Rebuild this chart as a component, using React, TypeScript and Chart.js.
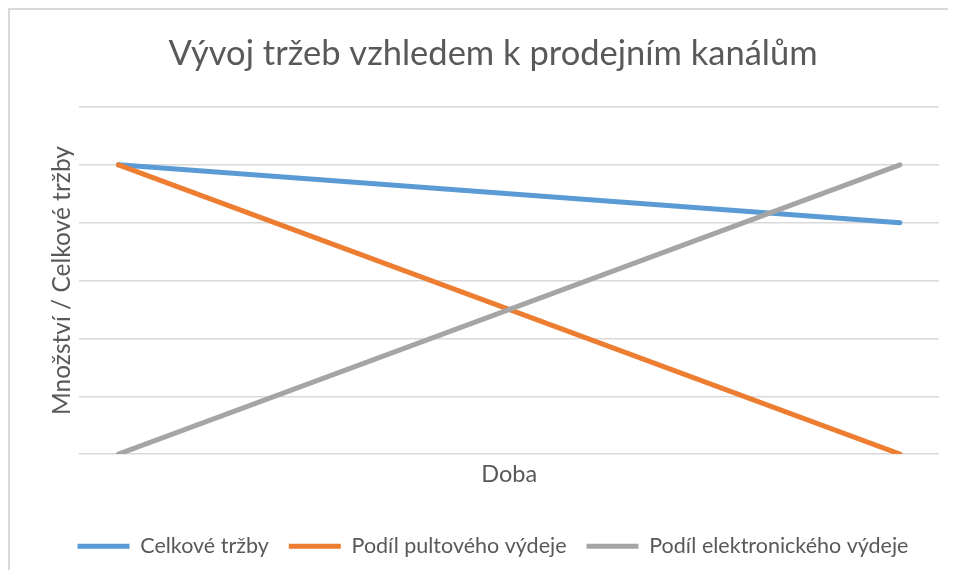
import React, { useEffect, useRef } from 'react';
import { Chart, registerables } from 'chart.js';

Chart.register(...registerables);

const chartTitle = 'Vývoj tržeb vzhledem k prodejním kanálům';
const xAxisTitle = 'Doba';
const yAxisTitle = 'Množství / Celkové tržby';

const periods = ['1', '2', '3', '4', '5', '6', '7', '8', '9', '10', '11'];
const seriesNames = ['Celkové tržby', 'Podíl pultového výdeje', 'Podíl elektronického výdeje'];
const celkoveTrzby = [5, null, null, null, null, null, null, null, null, null, 4];
const pultovyVydej = [5, null, null, null, null, null, null, null, null, null, 0];
const elektronickyVydej = [0, null, null, null, null, null, null, null, null, null, 5];
const yMin = 0;
const yMax = 6;
const yStep = 1;

const seriesColors = ['#5B9BD5', '#ED7D31', '#A5A5A5'];
const textColor = '#595959';
const fontFamily = 'Lato';

export default function App() {
  const canvasRef = useRef<HTMLCanvasElement | null>(null);

  useEffect(() => {
    if (!canvasRef.current) return;
    const values = [celkoveTrzby, pultovyVydej, elektronickyVydej];
    const chart = new Chart(canvasRef.current, {
      type: 'line',
      data: {
        labels: periods,
        datasets: seriesNames.map((name, i) => ({
          label: name,
          data: values[i],
          borderColor: seriesColors[i],
          backgroundColor: seriesColors[i],
          borderWidth: 5,
          borderCapStyle: 'round',
          borderJoinStyle: 'round',
          pointRadius: 0,
          pointHoverRadius: 0,
          spanGaps: true,
          tension: 0,
          order: seriesNames.length - 1 - i,
        })),
      },
      options: {
        animation: false,
        responsive: false,
        layout: { padding: { left: 37, right: 9, top: 1, bottom: 3 } },
        plugins: {
          tooltip: { enabled: false },
          title: {
            display: true,
            text: chartTitle,
            color: textColor,
            font: { family: fontFamily, size: 34.5, weight: 'normal' },
            padding: { top: 22, bottom: 32.6 },
          },
          legend: {
            position: 'bottom',
            labels: {
              usePointStyle: true,
              pointStyle: 'line',
              pointStyleWidth: 52,
              color: textColor,
              font: { family: fontFamily, size: 21.5 },
              padding: 20,
              sort: (a: any, b: any) => a.datasetIndex - b.datasetIndex,
            },
          },
        },
        scales: {
          x: {
            type: 'category',
            offset: true,
            grid: { display: false },
            border: { display: false },
            ticks: { display: false },
            title: {
              display: true,
              text: xAxisTitle,
              color: textColor,
              font: { family: fontFamily, size: 23.5 },
              padding: { top: -2, bottom: 27.2 },
            },
          },
          y: {
            min: yMin,
            max: yMax,
            ticks: { display: false, stepSize: yStep },
            grid: { color: '#d9d9d9', lineWidth: 1.5, drawTicks: false },
            border: { display: false },
            title: {
              display: true,
              text: yAxisTitle,
              color: textColor,
              font: { family: fontFamily, size: 24.5 },
              padding: { top: 0.5, bottom: 2.5 },
            },
          },
        },
      },
    });
    return () => chart.destroy();
  }, []);

  return (
    <div
      style={{
        width: 940,
        height: 562,
        boxSizing: 'border-box',
        borderTop: '2px solid #d9d9d9',
        borderLeft: '2px solid #d9d9d9',
        background: '#fff',
      }}
    >
      <canvas ref={canvasRef} width={938} height={560} style={{ display: 'block' }} />
    </div>
  );
}
